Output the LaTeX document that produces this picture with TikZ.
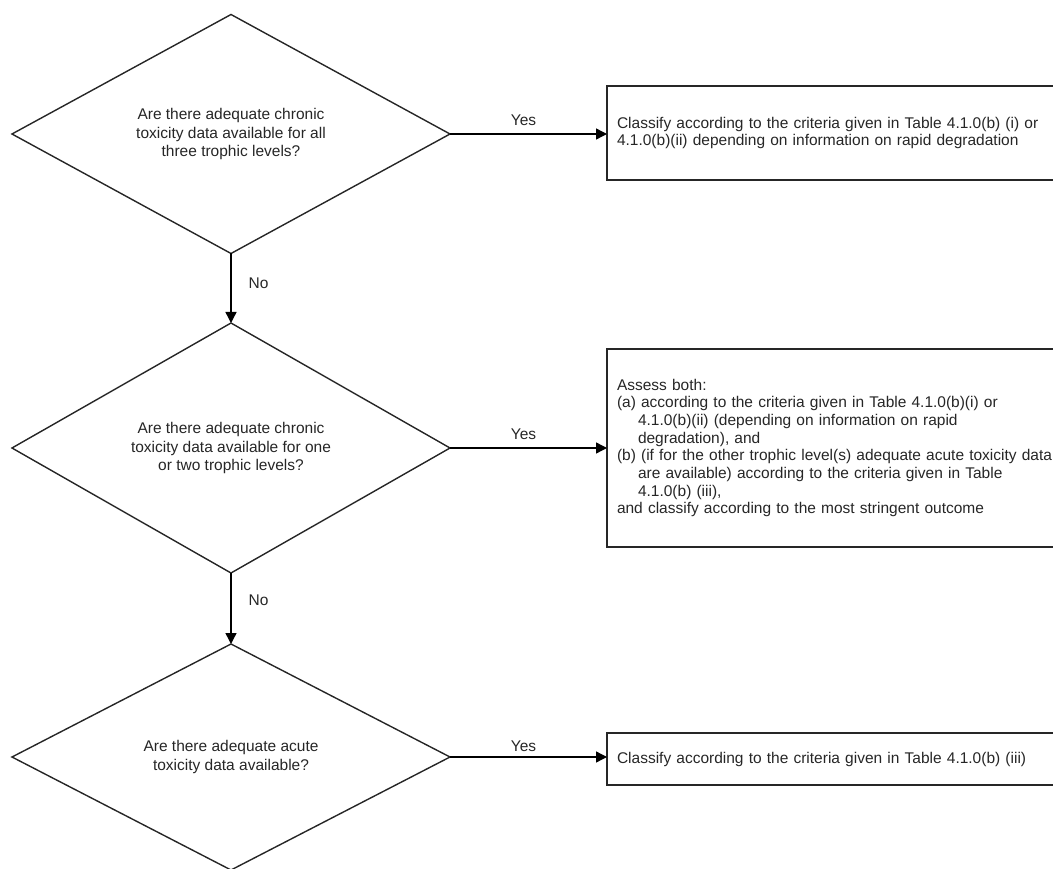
\documentclass[tikz,border=0pt]{standalone}
\usepackage{fontspec}
\setmainfont{Liberation Sans}
\usetikzlibrary{shapes.geometric,arrows.meta}
\begin{document}
\begin{tikzpicture}[x=1pt,y=-1pt,
  dec/.style={draw=black!85, line width=1.4pt, shape=diamond, aspect=1.83,
    minimum width=438pt, minimum height=239pt, inner sep=0pt, outer sep=0pt,
    align=center, font=\fontsize{15.5}{18.5}\selectfont, text=black!85},
  box/.style={draw=black!85, line width=1.4pt, rectangle, anchor=north west,
    text width=440pt, inner xsep=10pt, inner ysep=0pt, outer sep=0pt,
    align=left, font=\fontsize{15.5}{17.7}\selectfont, text=black!85},
  arr/.style={draw=black, line width=1.4pt, -{Triangle[length=11pt,width=11pt]}},
  lbl/.style={font=\fontsize{15.5}{18}\selectfont, text=black!85, inner sep=0pt}]
\useasboundingbox (0,0) rectangle (1053,869);
\clip (0,0) rectangle (1053,869);
\node[dec] (d1) at (231,134) {Are there adequate chronic\\toxicity data available for all\\three trophic levels?};
\node[dec, minimum height=250pt] (d2) at (231,448) {Are there adequate chronic\\toxicity data available for one\\or two trophic levels?};
\node[dec, minimum height=226pt] (d3) at (231,757) {Are there adequate acute\\toxicity data available?};
\node[box, minimum height=94pt] (b1) at (607,86) {Classify according to the criteria given in Table 4.1.0(b) (i) or\\4.1.0(b)(ii) depending on information on rapid degradation};
\node[box, minimum height=198pt] (b2) at (607,349) {Assess both:\\
(a) according to the criteria given in Table 4.1.0(b)(i) or\\
\hspace*{21pt}4.1.0(b)(ii) (depending on information on rapid\\
\hspace*{21pt}degradation), and\\
(b) (if for the other trophic level(s) adequate acute toxicity data\\
\hspace*{21pt}are available) according to the criteria given in Table\\
\hspace*{21pt}4.1.0(b) (iii),\\
and classify according to the most stringent outcome};
\node[box, minimum height=52pt] (b3) at (607,733) {Classify according to the criteria given in Table 4.1.0(b) (iii)};
\draw[arr] (d1.east) -- (d1.east -| b1.west) node[lbl, midway, anchor=south, yshift=7.5pt, xshift=-5pt] {Yes};
\draw[arr] (d2.east) -- (d2.east -| b2.west) node[lbl, midway, anchor=south, yshift=7.5pt, xshift=-5pt] {Yes};
\draw[arr] (d3.east) -- (d3.east -| b3.west) node[lbl, midway, anchor=south, yshift=5pt, xshift=-5pt] {Yes};
\draw[arr] (d1.south) -- (d2.north) node[lbl, midway, anchor=west, xshift=17pt, yshift=5pt] {No};
\draw[arr] (d2.south) -- (d3.north) node[lbl, midway, anchor=west, xshift=17pt, yshift=8pt] {No};
\end{tikzpicture}
\end{document}
